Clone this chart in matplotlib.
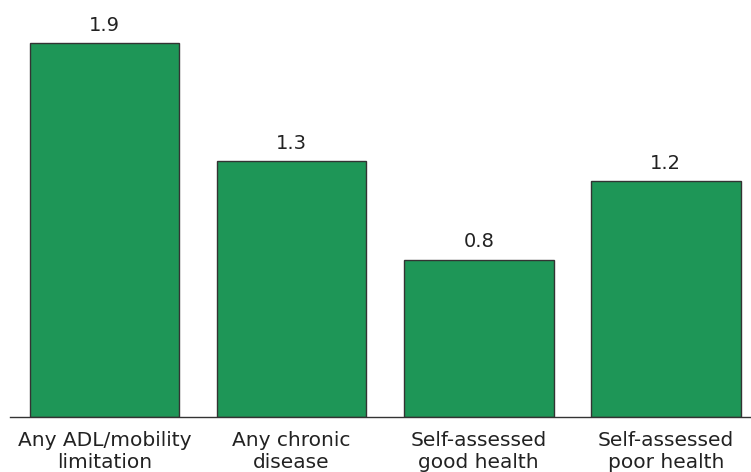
import numpy as np
import matplotlib.pyplot as plt

categories = ["Any ADL/mobility\nlimitation", "Any chronic\ndisease",
              "Self-assessed\ngood health", "Self-assessed\npoor health"]
values = [1.9, 1.3, 0.8, 1.2]

fig = plt.figure(figsize=(7.51, 4.72), dpi=100)
ax = fig.add_axes([10 / 751, 55 / 472, 741 / 751, 393.6 / 472])

x = np.arange(len(categories))
bars = ax.bar(x, values, width=0.8, color="#1e9657", edgecolor="#333333", linewidth=1.0)

for b, v in zip(bars, values):
    ax.annotate(f"{v}", (b.get_x() + b.get_width() / 2, v), xytext=(0, 6),
                textcoords="offset points", ha="center", va="bottom",
                fontsize=14, color="#222222")

ax.set_xlim(-0.505, 3.455)
ax.set_ylim(0, 2.0)
ax.set_xticks(x)
ax.set_xticklabels(categories, fontsize=14.5, color="#222222", linespacing=1.18)
ax.tick_params(axis="x", length=0, pad=10)
ax.set_yticks([])
for s in ["top", "right", "left"]:
    ax.spines[s].set_visible(False)
ax.spines["bottom"].set_color("#333333")
ax.spines["bottom"].set_linewidth(1.0)

fig.savefig("out.png", dpi=100)
